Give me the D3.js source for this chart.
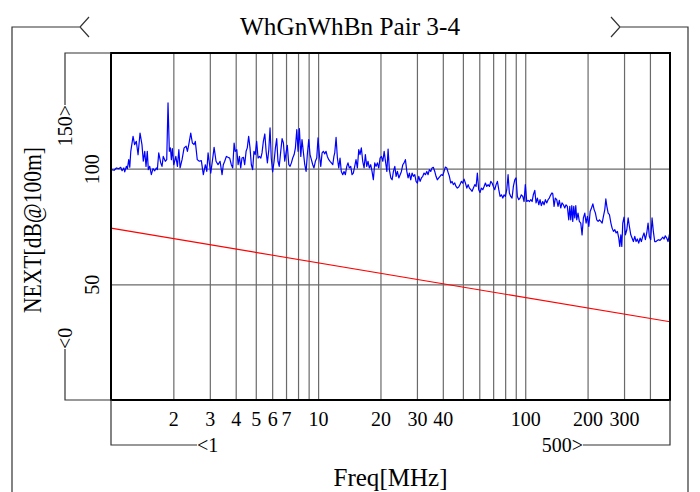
<!DOCTYPE html>
<html>
<head>
<meta charset="utf-8">
<script src="https://cdn.jsdelivr.net/npm/d3@7"></script>
<style>
  html, body { margin: 0; padding: 0; background: #ffffff; }
  svg { display: block; }
  text { font-family: "Liberation Serif", "DejaVu Serif", serif; fill: #000; }
</style>
</head>
<body>
<svg id="chart" width="700" height="492"></svg>
<script>
// ---------------- data ----------------
const chartTitle = "WhGnWhBn Pair 3-4";
const xAxisTitle = "Freq[MHz]";
const yAxisTitle = "NEXT[dB@100m]";
const xDomain = [1, 500];
const yDomain = [0, 150];
const xGridValues = [2, 3, 4, 5, 6, 7, 8, 9, 10, 20, 30, 40, 50, 60, 70, 80, 90, 100, 200, 300, 400];
const xTickLabels = [2, 3, 4, 5, 6, 7, 10, 20, 30, 40, 100, 200, 300];
const yGridValues = [50, 100];
const yTickLabels = [50, 100];
const xRangeLabels = ["<1", "500>"];
const yRangeLabels = ["<0", "150>"];

// limit line (red)
const limitFreq = [1, 500];
const limitNext = [74.3, 33.8];

// measured NEXT (blue)
const measFreq = [
  1.0, 1.035, 1.062, 1.09, 1.114, 1.131, 1.153, 1.165, 1.186, 1.2, 1.218, 1.232, 1.246, 1.278, 1.3, 1.325, 1.351, 1.381, 1.411, 1.432,
  1.455, 1.476, 1.497, 1.514, 1.538, 1.566, 1.595, 1.626, 1.656, 1.674, 1.70, 1.738, 1.763, 1.788, 1.829, 1.858, 1.885, 1.913, 1.935, 1.957,
  1.978, 2.009, 2.056, 2.093, 2.126, 2.156, 2.203, 2.254, 2.305, 2.339, 2.374, 2.427, 2.471, 2.518, 2.553, 2.609, 2.669, 2.73, 2.791, 2.855,
  2.9, 2.942, 2.984, 3.031, 3.10, 3.146, 3.215, 3.287, 3.362, 3.437,
  3.485, 3.54, 3.605, 3.674, 3.742, 3.81, 3.87, 3.93, 3.98, 4.05, 4.11, 4.17, 4.23, 4.29, 4.36, 4.42, 4.49, 4.55, 4.62, 4.69,
  4.76, 4.83, 4.90, 4.97, 5.05, 5.13, 5.21, 5.29, 5.36, 5.44, 5.53, 5.61, 5.69, 5.78, 5.86, 5.94, 6.03, 6.13, 6.22, 6.31,
  6.40, 6.49, 6.60, 6.70, 6.80, 6.90, 7.0, 7.10, 7.22, 7.32, 7.43, 7.54, 7.66, 7.77, 7.89, 8.0, 8.12, 8.25, 8.36, 8.48,
  8.62, 8.75, 8.87, 9.01, 9.14, 9.28, 9.42, 9.55, 9.70, 9.85, 9.99, 10.14, 10.30, 10.45, 10.60, 10.77, 10.92, 11.08, 11.26, 11.42,
  11.59, 11.77,
  11.92, 12.03, 12.21, 12.39, 12.58, 12.76, 12.94, 13.15, 13.34, 13.54, 13.75, 13.94, 14.14, 14.37, 14.58, 14.79, 15.02, 15.24, 15.47, 15.71,
  15.93, 16.17, 16.42, 16.67, 16.91, 17.17, 17.42, 17.67, 17.94, 18.21, 18.48, 18.77, 19.04, 19.33, 19.63, 19.91, 20.21, 20.54, 20.84, 21.14,
  21.47, 21.77, 22.08, 22.44, 22.77, 23.10, 23.46, 23.80, 24.14, 24.53, 24.89, 25.25, 25.64, 26.0, 26.39, 26.81, 27.19, 27.58, 28.0, 28.42,
  28.84, 29.29, 29.71, 30.14, 30.62, 31.08, 31.53, 32.01, 32.47, 32.95, 33.47, 33.96, 34.44, 34.96, 35.48, 36.0, 36.57, 37.09, 37.63, 38.23,
  38.79, 39.35, 39.96,
  40.56, 41.16, 41.81, 42.41, 43.03, 43.7, 44.33, 44.95, 45.66, 46.33, 46.99, 47.72, 48.43, 49.13, 49.89, 50.65, 51.41, 52.24, 53.0, 53.76,
  54.59, 55.38, 56.2, 57.09, 57.91, 58.73, 59.62, 60.49, 61.41, 62.39, 63.31, 64.22, 65.22, 66.19, 67.16, 68.2, 69.17, 70.16, 71.29, 72.34,
  73.39, 74.52, 75.6, 76.72, 77.93, 79.05, 80.18, 81.45, 82.64, 83.82, 85.1, 86.37, 87.65, 89.02, 90.31, 91.64, 93.06, 94.39, 95.76, 97.28,
  98.7, 100.1, 101.7, 103.3, 104.8, 106.4, 107.9, 109.4, 111.2, 112.8, 114.5, 116.3, 117.9, 119.6, 121.5, 123.3, 125.1, 127.1, 128.9, 130.7,
  132.8, 134.7,
  135.8, 137.8, 139.7, 141.9, 144, 146.1, 148.4, 150.5, 152.8, 155.2, 157.4, 159.7, 162.2, 164.1, 165.9, 167.8, 169.6, 171.5, 173.5, 175.4,
  177.3, 179.8, 182.5, 185.4, 188.1, 190.9, 193.9, 196.7, 199.6, 202.8, 205.8, 208.9, 212.1, 215.1, 218.2, 221.5, 224.9, 228.2, 231.8, 235.1,
  238.5, 242.2, 245, 247.8, 251.4, 255, 259.2, 262.7, 266.6, 270.8, 274.7, 278.6, 282.9, 286.1, 289.4, 292.6, 295.8, 300, 304.5, 309.4,
  313.9, 318.4, 323.3, 327.9, 332.8, 338, 342.9, 347.8, 353.2, 358.5, 363.7, 369.4, 374.6, 380.2, 386.2, 391.8, 397.4, 403.6, 409.6, 415.5,
  421.8, 428, 434.3, 441.2, 447.6, 454.1, 461.2, 467.9, 474.5, 482.1, 489.1, 496.2, 500
];
const measNext = [
  99.6, 99.3, 100.3, 100, 100.6, 99.1, 100.3, 98.6, 101, 100, 103.9, 100.6, 107.5, 114, 110.4, 111.8, 106, 115.4, 110.4, 103.2,
  107.5, 101, 107.5, 99.6, 101, 97.4, 100, 99.1, 100.3, 99.6, 106.8, 102.5, 101, 105.3, 103.2, 103.9, 128.4, 107.5, 109, 103.9,
  108.7, 101.7, 105.3, 101, 108.2, 100.3, 103.9, 109, 109.7, 107.5, 110.4, 115.4, 111.1, 110.4, 111.8, 103.9, 103.2, 103.5, 97.4, 101.7,
  98.8, 106.8, 102.5, 98.1, 104.6, 109.2, 103.2, 101.7, 103.2, 97.4,
  101.7, 103.2, 105.3, 104.9, 104.6, 101.7, 100.3, 111.1, 107.5, 108.2, 101.7, 105.3, 100.3, 104.6, 104.9, 101.7, 107.5, 109, 114, 109,
  101.7, 99.6, 107.5, 106.1, 111.8, 104.6, 105.3, 104.6, 106.8, 111.8, 115, 107.5, 102.5, 108.2, 117.6, 104.6, 98.6, 103.2, 109, 113,
  103.2, 101, 107.5, 113, 111.1, 103.2, 106.8, 110.1, 101.7, 101, 102.5, 104.6, 106.1, 109, 116.9, 107.5, 117.3, 105.3, 112.6, 107.5,
  101.7, 98.8, 106.1, 112.6, 106.1, 103.9, 101.7, 100.3, 103.2, 104.6, 113.3, 106.1, 101, 106.8, 107.5, 106.4, 107.5, 105.3, 103.9, 103.2,
  102.5, 101.7,
  105.3, 106.8, 113.5, 104.6, 100.3, 104.6, 98.8, 97.4, 98.8, 97.4, 101, 102.5, 100.3, 101, 97.4, 98.1, 101, 103.9, 100.3, 108.2,
  106.1, 109, 103.2, 100.3, 106.1, 101, 103.2, 100.3, 101.7, 98.8, 95.2, 102.5, 101, 102.5, 100.3, 104.6, 105.3, 103.2, 107.5, 103.2,
  98.8, 108.5, 99.6, 96, 95.2, 98.8, 101, 96.7, 98.8, 96, 97.4, 98.8, 101.7, 102.5, 103.9, 98.8, 96, 98.1, 95.2, 98.1,
  96.7, 97.4, 94.5, 93.8, 96.7, 94.5, 96, 96.7, 98.1, 97.4, 98.8, 97.4, 99.6, 98.8, 100.3, 100.6, 98.8, 96.7, 95.2, 96,
  96.7, 97.4, 97.1,
  98.8, 100.7, 100.3, 98.4, 96.7, 93.8, 94.5, 93.1, 93.8, 92.3, 91.6, 92.1, 93.1, 94.5, 93.8, 95.5, 93.8, 91.6, 93.1, 91.6,
  90.9, 90.2, 91.6, 93.1, 92.3, 98.1, 90.9, 89.7, 91.6, 90.9, 92.3, 93.8, 92.3, 93.1, 92.3, 94.5, 93.8, 92.3, 90.9, 93.1,
  94.5, 90.9, 88, 88.7, 87.3, 88.7, 88, 90.9, 97.4, 89.5, 88, 87.3, 92.3, 95.2, 96, 88, 86.6, 87.3, 88.7, 88,
  85.8, 93.1, 85.8, 86.3, 85.8, 86.6, 85.8, 88.7, 90.6, 85.2, 87.3, 84.4, 86.6, 84, 85.8, 84.4, 86.6, 85.2, 86.6, 87.3,
  88.7, 89.5,
  89.2, 83.7, 87.3, 86.6, 83.7, 86.3, 83, 85.2, 84.4, 83, 84.4, 83.7, 77.9, 83.7, 77.9, 84, 77.2, 83.7, 78.7, 84,
  77.9, 80.8, 77.2, 76.5, 71.4, 78.7, 80.8, 76.5, 79.4, 75, 81.5, 83, 84.8, 82.3, 80.8, 77.9, 77.2, 77.9, 77.2, 76.5,
  79.4, 82.3, 86.9, 83.7, 80.8, 80.1, 76.5, 74.3, 72.9, 73.6, 72.2, 72.9, 70, 66.4, 71.4, 66.4, 76.5, 79.1, 71.4, 73.6,
  78.7, 75, 71.4, 70, 68.5, 70.7, 68.5, 69.6, 67.8, 70, 68.5, 70.7, 72.2, 69.3, 72.2, 76.5, 70.7, 69.3, 78.7, 72.9,
  68.5, 68.5, 69, 69.3, 69, 69.6, 70.4, 69.6, 71, 70, 68.5, 71.4, 72
];

// ---------------- layout ----------------
const W = 700, H = 492;
const plot = { left: 111, right: 670, top: 53, bottom: 400 };
const svg = d3.select("#chart");

const x = d3.scaleLog().domain(xDomain).range([plot.left, plot.right]);
const y = d3.scaleLinear().domain(yDomain).range([plot.bottom, plot.top]);

const lineCol = "#000";

// outer frame with title
const frameY = 27;
svg.append("path")
  .attr("d", `M12,${H} V${frameY} H80 M89,${frameY - 10} L80,${frameY} L89,${frameY + 10}`)
  .attr("fill", "none").attr("stroke", "#333").attr("stroke-width", 1.2);
svg.append("path")
  .attr("d", `M688,${H} V${frameY} H620 M611,${frameY - 10} L620,${frameY} L611,${frameY + 10}`)
  .attr("fill", "none").attr("stroke", "#333").attr("stroke-width", 1.2);

svg.append("text")
  .attr("x", 350).attr("y", frameY + 8)
  .attr("text-anchor", "middle")
  .attr("font-size", 26)
  .attr("textLength", 220).attr("lengthAdjust", "spacingAndGlyphs")
  .text(chartTitle);

// gridlines via axes
const gx = svg.append("g")
  .attr("transform", `translate(0,${plot.bottom})`)
  .call(d3.axisBottom(x).tickValues(xGridValues).tickSize(-(plot.bottom - plot.top)).tickFormat(""));
gx.select(".domain").remove();
gx.selectAll(".tick line").attr("stroke", "#6a6a6a").attr("stroke-width", 1.2);

const gy = svg.append("g")
  .attr("transform", `translate(${plot.left},0)`)
  .call(d3.axisLeft(y).tickValues(yGridValues).tickSize(-(plot.right - plot.left)).tickFormat(""));
gy.select(".domain").remove();
gy.selectAll(".tick line").attr("stroke", "#6a6a6a").attr("stroke-width", 1.2);

// limit line
const lineGen = d3.line().x(d => x(d[0])).y(d => y(d[1]));
svg.append("path")
  .datum(limitFreq.map((f, i) => [f, limitNext[i]]))
  .attr("d", lineGen)
  .attr("fill", "none").attr("stroke", "#ff0000").attr("stroke-width", 1.1);

// measured line
svg.append("path")
  .datum(measFreq.map((f, i) => [f, measNext[i]]))
  .attr("d", lineGen)
  .attr("fill", "none").attr("stroke", "#0000ff").attr("stroke-width", 1.2)
  .attr("stroke-linejoin", "round");

// plot frame
svg.append("rect")
  .attr("x", plot.left).attr("y", plot.top)
  .attr("width", plot.right - plot.left).attr("height", plot.bottom - plot.top)
  .attr("fill", "none").attr("stroke", "#000").attr("stroke-width", 2);

// x tick labels
const xl = svg.append("g")
  .attr("transform", `translate(0,${plot.bottom})`)
  .call(d3.axisBottom(x).tickValues(xTickLabels).tickSize(0).tickFormat(d3.format("d")));
xl.select(".domain").remove();
xl.selectAll("text")
  .attr("y", 26).attr("dy", 0)
  .attr("font-size", 20)
  .attr("font-family", "Liberation Serif, serif")
  .attr("fill", "#000");

// y tick labels (rotated)
const yl = svg.append("g")
  .attr("transform", `translate(${plot.left},0)`)
  .call(d3.axisLeft(y).tickValues(yTickLabels).tickSize(0).tickFormat(d3.format("d")));
yl.select(".domain").remove();
yl.selectAll(".tick text")
  .attr("x", 0).attr("dy", 0)
  .attr("transform", "translate(-12,0) rotate(-90)")
  .attr("text-anchor", "middle")
  .attr("font-size", 20)
  .attr("font-family", "Liberation Serif, serif")
  .attr("fill", "#000");

// x range bracket
const brY = 445;
svg.append("path")
  .attr("d", `M${plot.left},${plot.bottom} V${brY} H197 M583,${brY} H${plot.right} V${plot.bottom}`)
  .attr("fill", "none").attr("stroke", "#333").attr("stroke-width", 1.2);
svg.append("text").attr("x", 197).attr("y", brY + 7).attr("text-anchor", "start")
  .attr("font-size", 20).text(xRangeLabels[0]);
svg.append("text").attr("x", 583).attr("y", brY + 7).attr("text-anchor", "end")
  .attr("font-size", 20).text(xRangeLabels[1]);

// y range bracket
const brX = 65;
svg.append("path")
  .attr("d", `M${plot.left},${plot.top} H${brX} V105 M${brX},349 V${plot.bottom} H${plot.left}`)
  .attr("fill", "none").attr("stroke", "#333").attr("stroke-width", 1.2);
svg.append("text")
  .attr("transform", `translate(${brX + 7},105) rotate(-90)`)
  .attr("text-anchor", "end").attr("font-size", 20).text(yRangeLabels[1]);
svg.append("text")
  .attr("transform", `translate(${brX + 7},349) rotate(-90)`)
  .attr("text-anchor", "start").attr("font-size", 20).text(yRangeLabels[0]);

// axis titles
svg.append("text")
  .attr("x", (plot.left + plot.right) / 2).attr("y", 486)
  .attr("text-anchor", "middle").attr("font-size", 25)
  .attr("textLength", 114).attr("lengthAdjust", "spacingAndGlyphs")
  .text(xAxisTitle);
svg.append("text")
  .attr("transform", `translate(41,230) rotate(-90)`)
  .attr("text-anchor", "middle").attr("font-size", 25)
  .attr("textLength", 166).attr("lengthAdjust", "spacingAndGlyphs")
  .text(yAxisTitle);
</script>
</body>
</html>
